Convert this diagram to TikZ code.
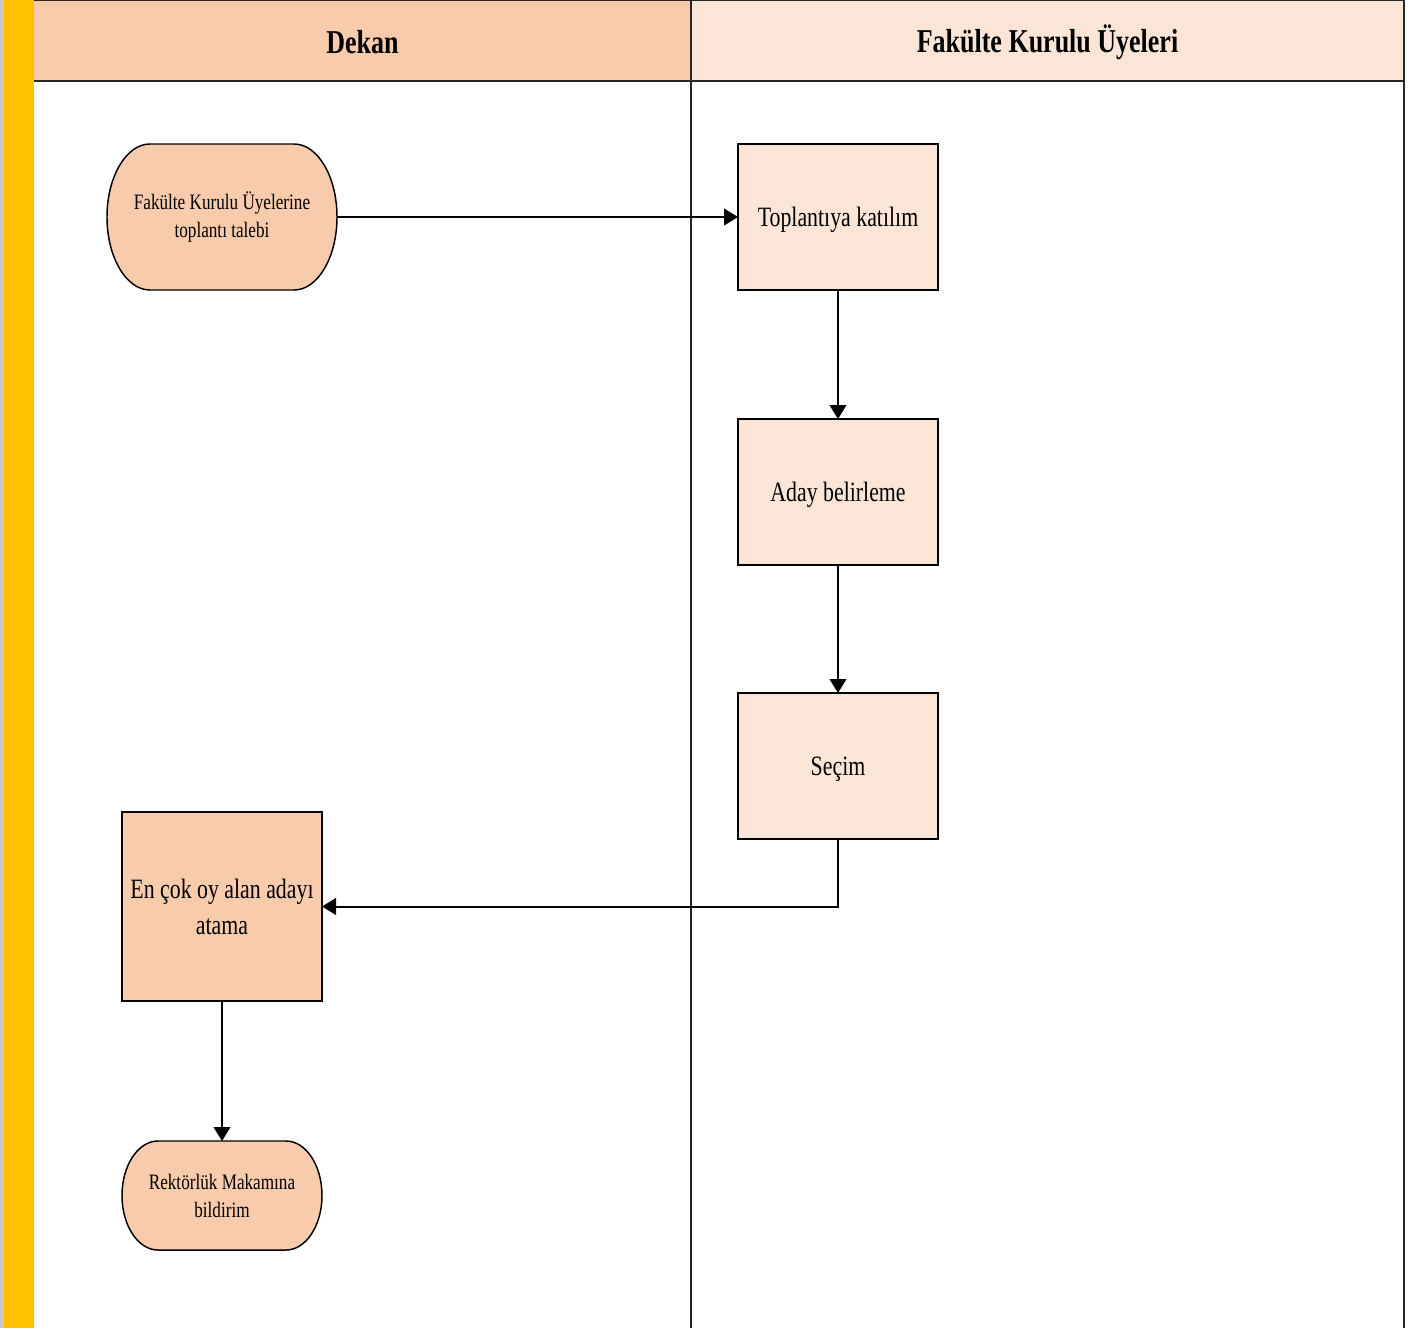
\documentclass[tikz,border=0pt]{standalone}
\usepackage{fontspec}
\setmainfont{Liberation Serif}[FakeStretch=0.78]
\usetikzlibrary{arrows.meta}
\definecolor{strip}{HTML}{FFC000}
\definecolor{dekanfill}{HTML}{F8CBAD}
\definecolor{uyefill}{HTML}{FBE5D6}
\definecolor{edge}{HTML}{262626}
% terminal outline: centre (#1,#2), half width #3, half height #4,
% end radii #5 and #6 (px), fill colour #7
\newcommand\termoutline[7]{%
  \begin{scope}[shift={(#1,#2)}]
    \filldraw[draw=black,line width=1.1pt,fill=#7]
      ({-#3+#5},{-#4}) -- ({#3-#5},{-#4})
      arc[start angle=90,end angle=0,x radius=#5*0.75pt,y radius=#6*0.75pt]
      -- ({#3},{#4-#6})
      arc[start angle=0,end angle=-90,x radius=#5*0.75pt,y radius=#6*0.75pt]
      -- ({-#3+#5},{#4})
      arc[start angle=-90,end angle=-180,x radius=#5*0.75pt,y radius=#6*0.75pt]
      -- ({-#3},{-#4+#6})
      arc[start angle=180,end angle=90,x radius=#5*0.75pt,y radius=#6*0.75pt]
      -- cycle;
  \end{scope}}
\begin{document}
\begin{tikzpicture}[x=0.75pt,y=-0.75pt,
  lane/.style={draw=edge,line width=1.3pt},
  head/.style={font=\fontsize{25}{30}\selectfont\bfseries},
  procbox/.style={draw=black,line width=1.1pt,inner sep=0pt,outer sep=0pt,
    minimum width=150pt,align=center,text depth=0pt,font=\fontsize{21}{27}\selectfont},
  terminal/.style={inner sep=0pt,outer sep=0pt,
    align=center,font=\fontsize{16.5}{21}\selectfont},
  flow/.style={line width=1.5pt,-{Triangle[length=10.5pt,width=12.5pt]}}]
\useasboundingbox (0,0) rectangle (1417,1328);
\fill[white] (0,0) rectangle (1417,1328);
% left margin strip
\fill[black!22] (0,0) rectangle (4,1328);
\fill[strip] (4,0) rectangle (34,1328);
% lane headers
\fill[dekanfill] (34,0) rectangle (691,81);
\fill[uyefill] (691,0) rectangle (1404,81);
\draw[lane] (34,0) -- (1404,0);
\draw[lane] (34,81) -- (1404,81);
\draw[lane] (691,0) -- (691,1328);
\draw[lane] (1404,0) -- (1404,1328);
\node[head] (hdekan) at (362.5,42) {Dekan};
\node[head] (huye) at (1047.5,42) {Fakülte Kurulu Üyeleri};
% terminals
\termoutline{222}{217}{115}{73}{43}{73}{dekanfill}
\node[terminal,minimum width=172.5pt,minimum height=109.5pt]
  (talep) at (222,217) {Fakülte Kurulu Üyelerine\\toplantı talebi};
\termoutline{222}{1195.5}{100}{54.5}{36}{54.5}{dekanfill}
\node[terminal,minimum width=150pt,minimum height=81.75pt]
  (bildirim) at (222,1195.5) {Rektörlük Makamına\\bildirim};
% process boxes
\node[procbox,fill=uyefill,minimum height=109.5pt] (katilim) at (838,217) {Toplantıya katılım};
\node[procbox,fill=uyefill,minimum height=109.5pt] (aday) at (838,492) {Aday belirleme};
\node[procbox,fill=uyefill,minimum height=109.5pt] (secim) at (838,766) {Seçim};
\node[procbox,fill=dekanfill,minimum height=141.75pt,text depth=] (atama) at (222,906.5) {En çok oy alan adayı\\atama};
% connectors
\draw[flow] (talep.east) -- (katilim.west);
\draw[flow] (katilim.south) -- (aday.north);
\draw[flow] (aday.south) -- (secim.north);
\draw[flow] (secim.south) |- (atama.east);
\draw[flow] (atama.south) -- (bildirim.north);
\end{tikzpicture}
\end{document}
